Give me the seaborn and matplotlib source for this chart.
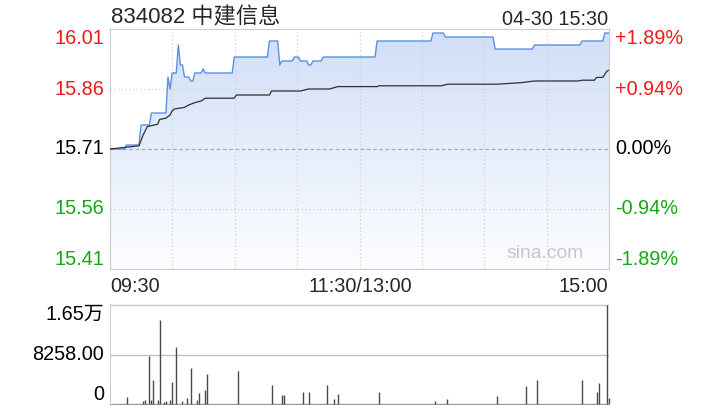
import numpy as np
import matplotlib
matplotlib.use("Agg")
import matplotlib.pyplot as plt
import matplotlib.transforms as mtransforms
from matplotlib.colors import LinearSegmentedColormap
import seaborn as sns

# ---------------- data ----------------
title = "834082 中建信息"
stamp = "04-30 15:30"
prev_close = 15.71
price_ticks = [16.01, 15.86, 15.71, 15.56, 15.41]
pct_labels = ["+1.89%", "+0.94%", "0.00%", "-0.94%", "-1.89%"]
time_labels = ["09:30", "11:30/13:00", "15:00"]
vol_tick_labels = ["1.65万", "8258.00", "0"]
vol_max = 16516

# price, as runs of equal values (minute index from 09:30)
run_start = [0, 8, 15, 20, 28, 29, 30, 33, 34, 36, 39, 41, 45, 46, 60, 77, 82, 83, 89, 92,
             96, 98, 103, 129, 156, 162, 186, 205, 228, 239]
run_end = [7, 14, 19, 27, 28, 29, 32, 33, 35, 38, 40, 44, 45, 59, 76, 81, 82, 88, 91, 95,
           97, 102, 128, 155, 161, 185, 204, 227, 238, 241]
run_price = [15.71, 15.72, 15.77, 15.80, 15.89, 15.86, 15.90, 15.97, 15.92, 15.89, 15.88,
             15.90, 15.91, 15.90, 15.94, 15.98, 15.92, 15.93, 15.94, 15.93, 15.92, 15.93,
             15.94, 15.98, 16.00, 15.99, 15.96, 15.97, 15.98, 16.00]

# average price line
avg_min = [0, 14, 16, 18, 23, 24, 27, 29, 30, 31, 36, 38, 41, 44, 46, 60, 61, 77, 78, 92,
           96, 106, 110, 129, 130, 160, 163, 187, 199, 205, 226, 228, 234, 235, 238, 240, 241]
avg_val = [15.71, 15.718, 15.745, 15.766, 15.772, 15.784, 15.787, 15.795, 15.805, 15.81,
           15.814, 15.82, 15.826, 15.83, 15.837, 15.837, 15.845, 15.845, 15.855, 15.855,
           15.86, 15.86, 15.866, 15.866, 15.868, 15.868, 15.872, 15.872, 15.876, 15.88,
           15.88, 15.882, 15.882, 15.889, 15.889, 15.905, 15.907]

# volume bars
vol_min = [8, 16, 17, 19, 20, 21, 23, 24, 26, 27, 29, 30, 32, 35, 37, 39, 42, 43, 46, 47,
           62, 78, 83, 84, 93, 96, 105, 108, 110, 130, 157, 163, 187, 201, 206, 228, 235,
           236, 240, 241]
vol_val = [1100, 400, 700, 7900, 700, 4000, 700, 13900, 300, 500, 700, 3550, 9430, 400,
           900, 6000, 700, 1800, 2340, 4900, 5400, 3100, 1470, 1400, 1900, 1900, 3200, 800,
           1640, 2000, 400, 800, 1260, 2900, 3900, 3900, 2000, 3430, 16516, 1000]

price = np.repeat(np.array(run_price), np.array(run_end) - np.array(run_start) + 1)
minutes = np.arange(len(price))
n_span = minutes[-1]

# ---------------- style ----------------
sns.set_theme(style="white")
plt.rcParams["font.family"] = ["Liberation Sans", "Noto Sans CJK SC", "DejaVu Sans"]

RED = "#f01818"
GREEN = "#14a814"
FS = 14.3
W, H = 720, 420

fig = plt.figure(figsize=(7.2, 4.2), dpi=100)
fig.patch.set_facecolor("white")
ax = fig.add_axes([110 / W, 151 / H, 499 / W, 240 / H])
axv = fig.add_axes([110 / W, 15 / H, 499 / W, 101 / H])
ymin, ymax = price_ticks[-1], price_ticks[0]

# gradient area under price line
poly = ax.fill_between(minutes, price, ymin, facecolor="none", edgecolor="none")
cmap = LinearSegmentedColormap.from_list("g", ["#d0def7", "#fcfdff"])
grad = np.linspace(0, 1, 256).reshape(-1, 1)
im = ax.imshow(grad, cmap=cmap, extent=[0, n_span, ymin, ymax], aspect="auto",
               origin="upper", zorder=1, interpolation="bilinear")
im.set_clip_path(poly.get_paths()[0], transform=ax.transData)

sns.lineplot(x=minutes, y=price, ax=ax, color="#5b8fe6", linewidth=1.0, zorder=4)
sns.lineplot(x=avg_min, y=avg_val, ax=ax, color="#2f2f2f", linewidth=0.9, zorder=4)

ax.set_xlim(0, n_span)
ax.set_ylim(ymin, ymax)
ax.set_xticks([])
ax.set_yticks([])
ax.set_xlabel("")
ax.set_ylabel("")
for s in ax.spines.values():
    s.set_color("#cccccc")
    s.set_linewidth(0.8)

for v in (price_ticks[1], price_ticks[3]):
    ax.axhline(v, ls=(0, (1, 2)), color="#d0d0d0", lw=0.9, zorder=2)
ax.axhline(prev_close, ls=(0, (3, 2)), color="#acacac", lw=0.9, zorder=2)
for k in range(1, 8):
    ax.axvline(k * n_span / 8, ls=(0, (1, 2)), color="#d0d0d0", lw=0.9, zorder=2)

trans = mtransforms.blended_transform_factory(ax.transAxes, ax.transData)
for i, (v, p) in enumerate(zip(price_ticks, pct_labels)):
    col = RED if v > prev_close else (GREEN if v < prev_close else "black")
    va = "top" if i == 0 else ("bottom" if i == len(price_ticks) - 1 else "center")
    ax.text(-0.012, v, f"{v:.2f}", transform=trans, ha="right", va=va, color=col, fontsize=FS)
    ax.text(1.013, v, p, transform=trans, ha="left", va=va, color=col, fontsize=FS)

ax.text(0.872, 0.0625, "sina.com", transform=ax.transAxes, ha="center", va="center",
        color="#c8c8c8", fontsize=13.9, zorder=5)

# time labels
fig.text(110 / W, 1 - 286 / H, time_labels[0], ha="left", va="center", fontsize=FS)
fig.text(360 / W, 1 - 286 / H, time_labels[1], ha="center", va="center", fontsize=FS)
fig.text(608 / W, 1 - 286 / H, time_labels[2], ha="right", va="center", fontsize=FS)

# title and stamp
fig.text(111 / W, 1 - 23.5 / H, title, ha="left", va="baseline", fontsize=16)
fig.text(608 / W, 1 - 25 / H, stamp, ha="right", va="baseline", fontsize=FS)

# volume panel
axv.set_xlim(0, n_span)
axv.set_ylim(-vol_max * 0.012, vol_max * 1.006)
axv.axhline(vol_max, ls="-", color="#c8c8c8", lw=1.0, zorder=2)
axv.axhline(vol_max * 0.497, ls="-", color="#bdbdbd", lw=1.0, zorder=2)
axv.axhline(0, ls="-", color="#9a9a9a", lw=1.0, zorder=2)
axv.vlines(vol_min, 0, vol_val, color="#4a4a4a", lw=1.0, zorder=3, clip_on=False)
axv.set_xticks([])
axv.set_yticks([])
for name, s in axv.spines.items():
    if name == "left":
        s.set_color("#cccccc")
        s.set_linewidth(0.8)
    else:
        s.set_visible(False)

vtrans = mtransforms.blended_transform_factory(axv.transAxes, axv.transData)
vol_pos = [vol_max, vol_max / 2, 0]
for i, (v, lab) in enumerate(zip(vol_pos, vol_tick_labels)):
    va = "top" if i == 0 else ("bottom" if i == 2 else "center")
    axv.text(-0.012, v, lab, transform=vtrans, ha="right", va=va, color="black", fontsize=FS)

fig.savefig("out.png", dpi=100)
